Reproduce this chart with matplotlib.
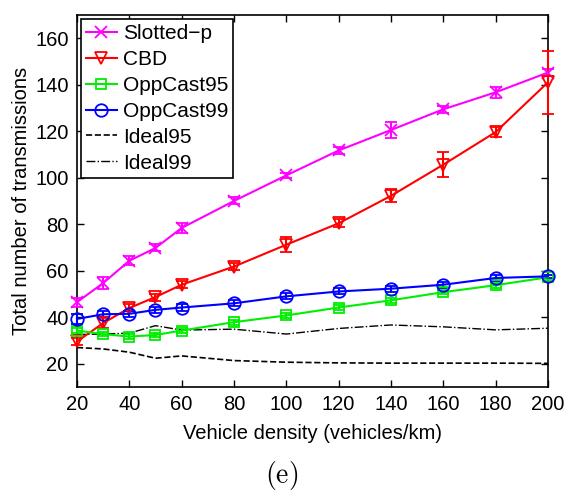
import matplotlib
matplotlib.use('Agg')
import matplotlib.pyplot as plt
from matplotlib.lines import Line2D

plt.rcParams['font.family'] = ['Liberation Sans', 'DejaVu Sans']
plt.rcParams['mathtext.fontset'] = 'cm'

density = [20, 30, 40, 50, 60, 80, 100, 120, 140, 160, 180, 200]

slotted = [46.5, 54.7, 64.3, 69.8, 78.4, 90, 101, 111.7, 120.5, 129.4, 136.7, 145.2]
slotted_err = [2, 2.5, 2, 1.5, 2, 1.5, 1, 1.5, 3.3, 1.5, 2.5, 1.5]
cbd = [29.6, 37.5, 44, 48.7, 54, 61.8, 71.2, 80.4, 92.2, 105.6, 119.6, 141]
cbd_err = [1.5, 2, 1.5, 1.5, 1.5, 1.5, 3.2, 1.8, 2.8, 5.5, 2, 13.5]
opp95 = [34.3, 32.8, 31.7, 32.4, 34.3, 37.9, 40.8, 44.2, 47.3, 50.8, 53.8, 57.2]
opp95_err = [1, 1, 1, 1, 1, 1, 1, 1, 1, 1, 1, 1]
opp99 = [39.3, 41.3, 41.5, 43.2, 44.2, 46, 49, 51.1, 52.3, 54, 56.9, 57.6]
opp99_err = [2, 1.3, 1.3, 1.3, 1.3, 1.3, 1.3, 1.3, 1.3, 1.3, 1.3, 0.5]
ideal95 = [27, 26.4, 25, 22.4, 23.4, 21.4, 20.7, 20.4, 20.3, 20.3, 20.3, 20.2]
ideal99 = [32.6, 32.8, 33.2, 36.4, 34.5, 34.9, 32.8, 35.2, 36.7, 35.9, 34.6, 35.3]

fig = plt.figure(figsize=(5.64, 4.95), dpi=100)
ax = fig.add_axes([0.1365, 0.218, 0.835, 0.752])

series = [
    ('Slotted\u2212p', slotted, slotted_err, '#ff00ff', 'x', 9),
    ('CBD', cbd, cbd_err, '#ff0000', 'v', 9),
    ('OppCast95', opp95, opp95_err, '#00ee00', 's', 7),
    ('OppCast99', opp99, opp99_err, '#0000ff', 'o', 9),
]
handles = []
for name, vals, err, col, mk, ms in series:
    ax.errorbar(density, vals, yerr=err, color=col, marker=mk, markersize=ms,
                markerfacecolor='none', markeredgewidth=1.3, capsize=4,
                elinewidth=1.5, capthick=1.5, linewidth=1.5, clip_on=False, zorder=3)
    handles.append(Line2D([], [], color=col, marker=mk, markersize=ms,
                          markerfacecolor='none', markeredgewidth=1.3, linewidth=1.5, label=name))

ax.plot(density, ideal95, color='black', linestyle='--', linewidth=1.2)
ax.plot(density, ideal99, color='black', linestyle='-.', linewidth=1.0)
handles.append(Line2D([], [], color='black', linestyle='--', linewidth=1.2, label='Ideal95'))
handles.append(Line2D([], [], color='black', linestyle='-.', linewidth=1.0, label='Ideal99'))

ax.set_xlim(20, 200)
ax.set_ylim(10, 170)
ax.set_xticks([20, 40, 60, 80, 100, 120, 140, 160, 180, 200])
ax.set_yticks([20, 40, 60, 80, 100, 120, 140, 160])
ax.tick_params(direction='in', top=True, right=True, labelsize=14.5, length=5, width=1, pad=6)
for s in ax.spines.values():
    s.set_linewidth(1.2)

ax.set_xlabel('Vehicle density (vehicles/km)', fontsize=14.5, labelpad=7)
ax.set_ylabel('Total number of transmissions', fontsize=14.5, labelpad=3)

leg = ax.legend(handles=handles, loc='upper left', fontsize=15, fancybox=False, framealpha=1,
                edgecolor='black', borderaxespad=0.2, handlelength=1.45,
                handletextpad=0.3, labelspacing=0.33, borderpad=0.25)
leg.get_frame().set_linewidth(1.2)

fig.text(0.5, 0.04, r'$(\mathrm{e})$', ha='center', va='center', fontsize=20)

fig.savefig('out.png', dpi=100)
